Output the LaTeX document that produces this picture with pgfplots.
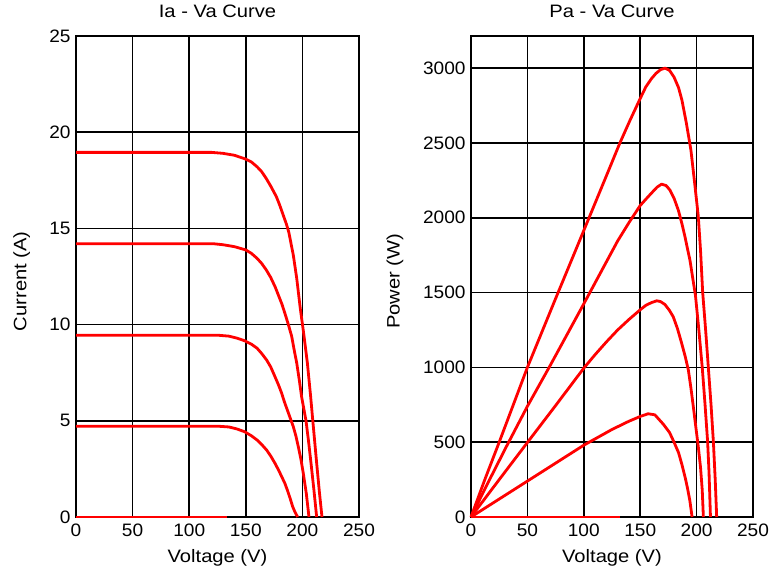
\documentclass[border=0pt]{standalone}
\usepackage{fontspec}
\setmainfont{Liberation Sans}
\usepackage{graphicx}
\usepackage{pgfplots}
\pgfplotsset{compat=1.18}
\definecolor{curve}{RGB}{255,0,0}
\newcommand{\tl}[1]{\scalebox{1.06}[1]{#1}}
\newcommand{\lb}[1]{\scalebox{1.12}[1]{#1}}
\pgfplotsset{
  pvbase/.style={
    scale only axis,
    anchor=south west,
    width=283bp, height=481bp,
    xmin=0, xmax=250,
    xtick={0,50,100,150,200,250},
    grid=major,
    major grid style={black, line width=1.7bp},
    axis line style={black, line width=2.2bp},
    major tick length=0pt,
    clip=false,
    scaled ticks=false,
    /pgf/number format/1000 sep={},
    tick label style={font=\fontsize{18bp}{21bp}\selectfont},
    xticklabel={\tl{\pgfmathprintnumber[assume math mode=true]{\tick}}},
    yticklabel={\tl{\pgfmathprintnumber[assume math mode=true]{\tick}}},
    xticklabel style={yshift=-3bp},
    yticklabel style={xshift=-2bp},
    label style={font=\fontsize{18bp}{21bp}\selectfont},
    title style={font=\fontsize{18bp}{21bp}\selectfont, at={(axis description cs:0.5,1.026)}, anchor=base},
    xlabel style={at={(axis description cs:0.5,-0.094)}, anchor=base},
    every axis plot post/.append style={draw=curve, line width=2.8bp, mark=none, line join=round},
  }
}
\begin{document}
\begin{tikzpicture}
\useasboundingbox (0,0) rectangle (771bp,567bp);
\begin{axis}[pvbase,
  at={(76bp,50bp)},
  ymin=0, ymax=25,
  ytick={0,5,10,15,20,25},
  title={\lb{Ia - Va Curve}},
  xlabel={\lb{Voltage (V)}},
  ylabel={\lb{Current (A)}},
  ylabel style={at={(axis description cs:-0.175,0.49)}, anchor=base, rotate=0},
]
\addplot coordinates {(0,18.95) (120,18.95) (130,18.9) (140,18.8) (150,18.6) (155,18.45) (160,18.2) (164,17.95) (168,17.6) (172,17.2) (177,16.65) (180,16.2) (183,15.7) (186,15.2) (188,14.8) (190,14.2) (192,13.6) (195,12.4) (198,10.9) (201,9.6) (204.4,8.0) (207.3,6.25) (209.5,4.8) (212.6,2.8) (215,1.3) (217.3,0)};
\addplot coordinates {(0,14.2) (122,14.2) (130,14.15) (140,14.05) (150,13.88) (155,13.7) (160,13.44) (164,13.18) (168,12.85) (172,12.45) (176,11.95) (179,11.5) (182,11.05) (185,10.5) (187.6,10.0) (190.5,9.4) (193,8.6) (195,8.0) (197.3,7.1) (199.3,6.25) (203.2,5.0) (205.5,3.9) (207.6,2.8) (210,1.5) (212.6,0)};
\addplot coordinates {(0,9.45) (125,9.45) (135,9.4) (142,9.3) (149,9.16) (155,8.98) (160,8.77) (164,8.5) (168.4,8.16) (172,7.8) (175.8,7.29) (179,6.85) (181.7,6.43) (184,6.0) (186.7,5.56) (189.5,5.1) (192,4.69) (194.3,4.2) (196.4,3.65) (198.7,3.0) (200.8,2.27) (203.5,1.2) (205.8,0)};
\addplot coordinates {(0,4.72) (125,4.72) (135,4.68) (142,4.58) (149,4.43) (155,4.22) (160,4.0) (164,3.77) (168.4,3.48) (172,3.17) (175.8,2.79) (179,2.43) (181.7,2.1) (184.5,1.75) (186.7,1.4) (189,1.0) (191.4,0.54) (193.5,0.25) (195.8,0)};
\addplot coordinates {(0,0) (133,0)};
\end{axis}
\begin{axis}[pvbase,
  at={(471bp,50bp)},
  width=282bp,
  ymin=0, ymax=3215,
  ytick={0,500,1000,1500,2000,2500,3000},
  title={\lb{Pa - Va Curve}},
  xlabel={\lb{Voltage (V)}},
  ylabel={\lb{Power (W)}},
  ylabel style={at={(axis description cs:-0.253,0.49)}, anchor=base, rotate=0},
]
\addplot coordinates {(0,0) (12,245) (25,500) (50,1000) (75,1460) (100,1915) (120,2280) (132,2500) (141,2652) (150,2797) (155,2875) (160,2930) (164,2965) (168,2990) (172,3000) (176,2985) (180,2940) (184,2870) (187,2786) (191,2630) (195,2450) (198,2250) (201.5,2010) (203.5,1780) (205.4,1500) (208,1250) (210.4,1000) (212.8,750) (214.9,500) (216.5,250) (217.8,0)};
\addplot coordinates {(0,0) (15,228) (32,480) (50,740) (70,1010) (100,1425) (120,1705) (130,1845) (140,1967) (150,2082) (155,2124) (160,2165) (165,2205) (169,2225) (173,2215) (176.4,2185) (180,2130) (183.8,2051) (187,1960) (189.7,1873) (192,1790) (194.1,1717) (196.5,1600) (199,1480) (202,1250) (205,1000) (207.5,750) (209.8,500) (211,300) (212.3,0)};
\addplot coordinates {(0,0) (25,250) (50,498) (75,745) (100,995) (110,1085) (120,1170) (130,1250) (140,1320) (150,1385) (155,1415) (160,1433) (164.6,1445) (168,1440) (172,1420) (176,1380) (179.3,1338) (183,1260) (186.8,1160) (190,1070) (192.7,982) (195,860) (197.1,737) (199.5,590) (201.5,470) (203.5,330) (205,180) (206,0)};
\addplot coordinates {(0,0) (25,120) (50,240) (75,360) (100,480) (125,585) (140,640) (150,672) (157,690) (163,683) (170.5,620) (176,565) (180,500) (184,430) (187,350) (190,260) (192,190) (194,110) (196,0)};
\addplot coordinates {(0,0) (132,0)};
\end{axis}
\end{tikzpicture}
\end{document}
